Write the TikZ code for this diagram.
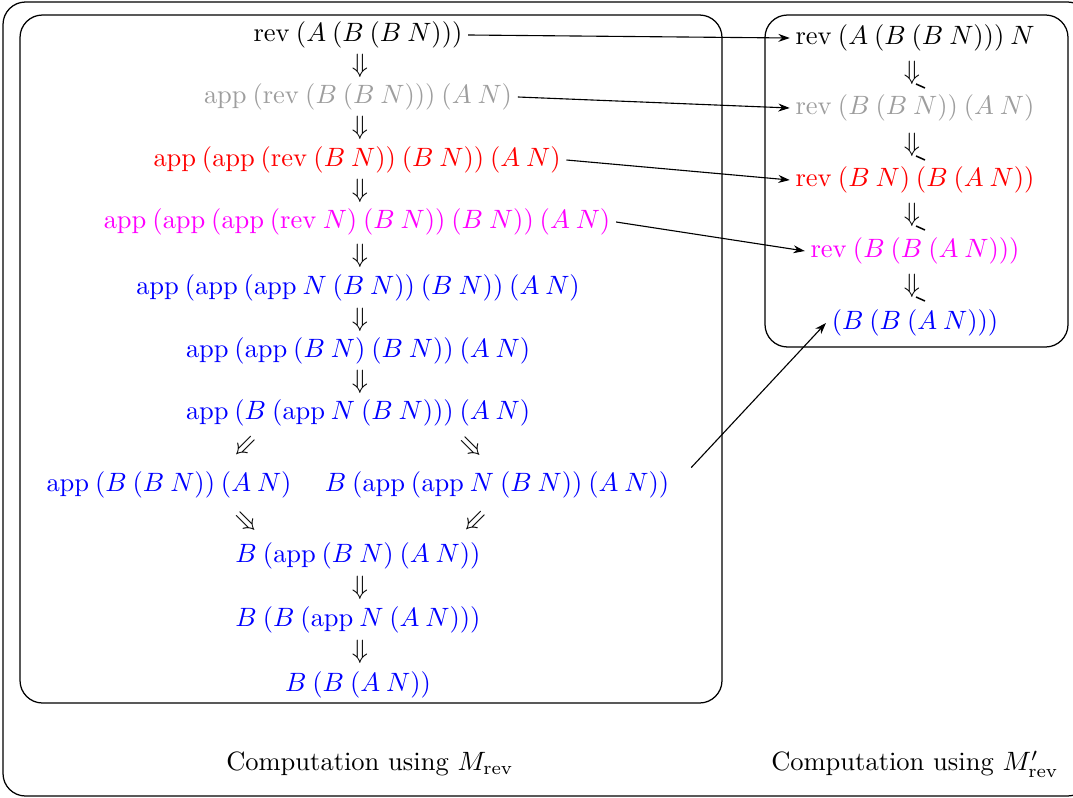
\documentclass[tikz,border=0pt]{standalone}
\usepackage{amsmath,amssymb}
\usetikzlibrary{arrows.meta}
\definecolor{tgray}{gray}{0.62}
\definecolor{tblue}{RGB}{0,0,255}
\definecolor{tmag}{RGB}{255,0,255}
\definecolor{tred}{RGB}{255,0,0}
\newcommand{\rv}{\mathrm{rev}}
\newcommand{\ap}{\mathrm{app}}
\begin{document}
\begin{tikzpicture}[x=0.3774pt,y=-0.3774pt,
  expr/.style={inner sep=2pt},
  dn/.style={inner sep=0pt},
  conn/.style={line width=0.42pt,-{Stealth[length=4.3pt,width=3pt]}},
  box/.style={draw,line width=0.47pt,rounded corners=8.5pt},
  tick/.style={line width=0.57pt}]
\useasboundingbox (0,0) rectangle (1073,797);
% boxes
\draw[box] (3,2) rectangle (1090,796);
\draw[box] (20,15) rectangle (722,703);
\draw[box] (765,15) rectangle (1068,347);
% left column
\node[expr] (L1) at (358,35) {$\rv\:(A\:(B\:(B\:N)))$};
\node[dn] (d1) at (360,66) {$\Downarrow$};
\node[expr,tgray] (L2) at (358,97) {$\ap\:(\rv\:(B\:(B\:N)))\:(A\:N)$};
\node[dn] (d2) at (360,128) {$\Downarrow$};
\node[expr,tred] (L3) at (357,160) {$\ap\:(\ap\:(\rv\:(B\:N))\:(B\:N))\:(A\:N)$};
\node[dn] (d3) at (360,191) {$\Downarrow$};
\node[expr,tmag] (L4) at (357,222) {$\ap\:(\ap\:(\ap\:(\rv\:N)\:(B\:N))\:(B\:N))\:(A\:N)$};
\node[dn] (d4) at (360,256) {$\Downarrow$};
\node[expr,tblue] (L5) at (358,288) {$\ap\:(\ap\:(\ap\:N\:(B\:N))\:(B\:N))\:(A\:N)$};
\node[dn] (d5) at (360,320) {$\Downarrow$};
\node[expr,tblue] (L6) at (358,351) {$\ap\:(\ap\:(B\:N)\:(B\:N))\:(A\:N)$};
\node[dn] (d6) at (360,382) {$\Downarrow$};
\node[expr,tblue] (L7) at (358,413) {$\ap\:(B\:(\ap\:N\:(B\:N)))\:(A\:N)$};
\node[dn,rotate=-45] (d7a) at (245,447) {$\Downarrow$};
\node[dn,rotate=45] (d7b) at (472,447) {$\Downarrow$};
\node[expr,tblue] (L8a) at (169,485) {$\ap\:(B\:(B\:N))\:(A\:N)$};
\node[expr,tblue] (L8b) at (497,485) {$B\:(\ap\:(\ap\:N\:(B\:N))\:(A\:N))$};
\node[dn,rotate=45] (d8a) at (247,522) {$\Downarrow$};
\node[dn,rotate=-45] (d8b) at (475,522) {$\Downarrow$};
\node[expr,tblue] (L9) at (358,556) {$B\:(\ap\:(B\:N)\:(A\:N))$};
\node[dn] (d9) at (360,588) {$\Downarrow$};
\node[expr,tblue] (L10) at (358,620) {$B\:(B\:(\ap\:N\:(A\:N)))$};
\node[dn] (d10) at (360,652) {$\Downarrow$};
\node[expr,tblue] (L11) at (358,685) {$B\:(B\:(A\:N))$};
% right column
\node[expr] (R1) at (915,38) {$\rv\:(A\:(B\:(B\:N)))\:N$};
\node[dn] (r1) at (912,73) {$\Downarrow$};
\node[expr,tgray] (R2) at (915,108) {$\rv\:(B\:(B\:N))\:(A\:N)$};
\node[dn] (r2) at (912,145) {$\Downarrow$};
\node[expr,tred] (R3) at (915,180) {$\rv\:(B\:N)\:(B\:(A\:N))$};
\node[dn] (r3) at (912,215) {$\Downarrow$};
\node[expr,tmag] (R4) at (915,251) {$\rv\:(B\:(B\:(A\:N)))$};
\node[dn] (r4) at (912,286) {$\Downarrow$};
\node[expr,tblue] (R5) at (915,323) {$(B\:(B\:(A\:N)))$};
\foreach \r in {r1,r2,r3,r4}{
  \draw[tick] (\r.center) ++(4,11) -- ++(9,4);
}
% connectors
\draw[conn] (L1.east) -- (R1.west);
\draw[conn] (L2.east) -- (R2.west);
\draw[conn] (L3.east) -- (R3.west);
\draw[conn] (L4.east) -- (R4.west);
\draw[conn,shorten <=9pt] (L8b.east) -- (R5.west);
% captions
\node (C1) at (370,764) {Computation using $M_{\mathrm{rev}}$};
\node (C2) at (915,764) {Computation using $M'_{\mathrm{rev}}$};
\end{tikzpicture}
\end{document}
